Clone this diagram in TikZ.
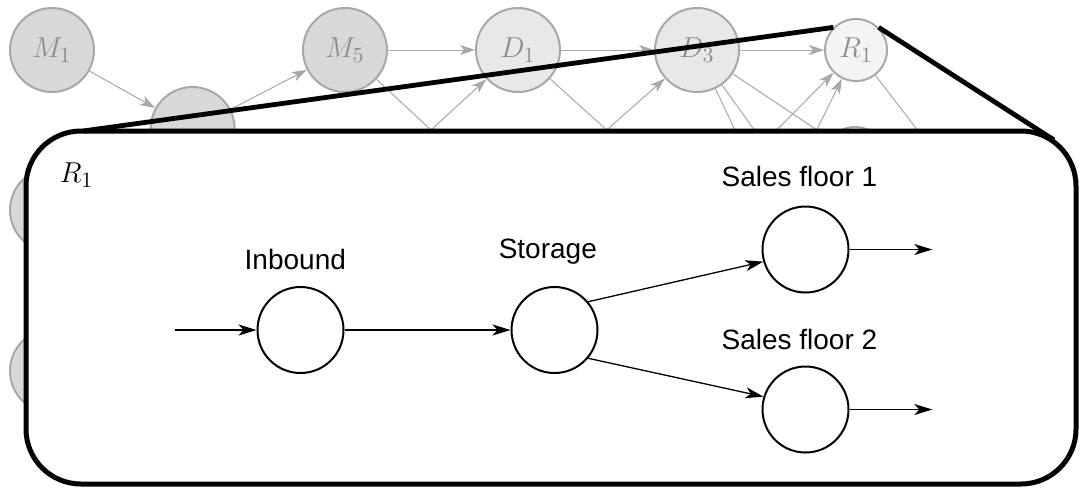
\documentclass[tikz,border=0pt]{standalone}
\usepackage{fontspec}
\newfontfamily\labfont{Liberation Sans}
\usetikzlibrary{arrows.meta}
\definecolor{mfill}{HTML}{D8D8D8}
\definecolor{dfill}{HTML}{E8E8E8}
\definecolor{rfill}{HTML}{F4F4F4}
\definecolor{gline}{HTML}{A8A8A8}
\definecolor{gtext}{HTML}{8C8C8C}
\begin{document}
\begin{tikzpicture}[x=0.5pt,y=-0.5pt,
  gnode/.style={circle, draw=gline, line width=1pt, minimum size=42pt, inner sep=0pt, text=gtext, font=\fontsize{15}{17}\selectfont},
  mnode/.style={gnode, fill=mfill},
  dnode/.style={gnode, fill=dfill},
  rnode/.style={gnode, fill=rfill, minimum size=31pt},
  gedge/.style={draw=gline, line width=0.5pt},
  garrow/.style={gedge, -{Stealth[length=7.5pt,width=5pt,inset=2pt]}},
  bnode/.style={circle, draw=black, line width=1pt, minimum size=43pt, inner sep=0pt, fill=white},
  barrow/.style={line width=0.65pt, -{Stealth[length=9pt,width=5.5pt,inset=2.5pt]}},
  lab/.style={font=\labfont\fontsize{14}{16}\selectfont, anchor=base, inner sep=0pt},
  mathlab/.style={font=\fontsize{15}{17}\selectfont, anchor=base, inner sep=0pt},
  insetbox/.style={draw=black, line width=2.5pt, fill=white, rounded corners=27.5pt},
  zoomline/.style={line width=2.4pt}]
\useasboundingbox (0,0) rectangle (1080,488);

% background graph
\node[mnode] (M1) at (52,50) {$M_1$};
\node[mnode] (M3) at (192.6,129) {};
\node[mnode] (M5) at (345,50) {$M_5$};
\node[dnode] (D1) at (518,50) {$D_1$};
\node[dnode] (D3) at (697,50) {$D_3$};
\node[rnode] (R1) at (856,50) {$R_1$};
\node[rnode] (R2) at (855,158) {};
\node[mnode] (M2) at (52,210) {};
\node[mnode] (M4) at (52,371) {};

\coordinate (c1) at (431,130);
\coordinate (c2) at (606.7,130);
\coordinate (c3) at (735,130);
\coordinate (c4) at (754.3,130);
\coordinate (c5) at (817,130);
\coordinate (c6) at (776.7,130);
\coordinate (c7) at (816.7,130);
\coordinate (c8) at (917.3,130);

\draw[garrow] (M1) -- (M3);
\draw[garrow] (M3) -- (M5);
\draw[garrow] (M5) -- (D1);
\draw[gedge] (M5) -- (c1);
\draw[garrow] (c1) -- (D1);
\draw[garrow] (D1) -- (D3);
\draw[gedge] (D1) -- (c2);
\draw[garrow] (c2) -- (D3);
\draw[garrow] (D3) -- (R1);
\draw[gedge] (D3) -- (c3);
\draw[gedge] (D3) -- (c4);
\draw[gedge] (D3) -- (c5);
\draw[garrow] (c6) -- (R1);
\draw[garrow] (c7) -- (R1);
\draw[gedge] (R1) -- (c8);

% inset box
\draw[insetbox] (26,131) rectangle (1076,484);
\coordinate (zl) at (83,131);
\coordinate (zr) at (1054,140);
\draw[zoomline] (R1.north west) -- (zl);
\draw[zoomline] (R1.north east) -- (zr);

\node[mathlab] (Rlab) at (76.7,182.7) {$R_1$};

\node[bnode] (inb) at (300.5,330) {};
\node[bnode] (sto) at (554.5,330) {};
\node[bnode] (sf1) at (805.5,249.5) {};
\node[bnode] (sf2) at (805.5,409.5) {};

\node[lab] (linb) at (295.3,269) {Inbound};
\node[lab] (lsto) at (547.8,258.3) {Storage};
\node[lab] (lsf1) at (799.4,186.5) {Sales floor 1};
\node[lab] (lsf2) at (799.4,349) {Sales floor 2};

\coordinate (src) at (175,330);
\coordinate (out1) at (932.3,249.5);
\coordinate (out2) at (932.3,409.5);
\draw[barrow] (src) -- (inb);
\draw[barrow] (inb) -- (sto);
\draw[barrow] (sto.40) -- (sf1.196);
\draw[barrow] (sto.-40) -- (sf2.163);
\draw[barrow] (sf1) -- (out1);
\draw[barrow] (sf2) -- (out2);
\end{tikzpicture}
\end{document}
